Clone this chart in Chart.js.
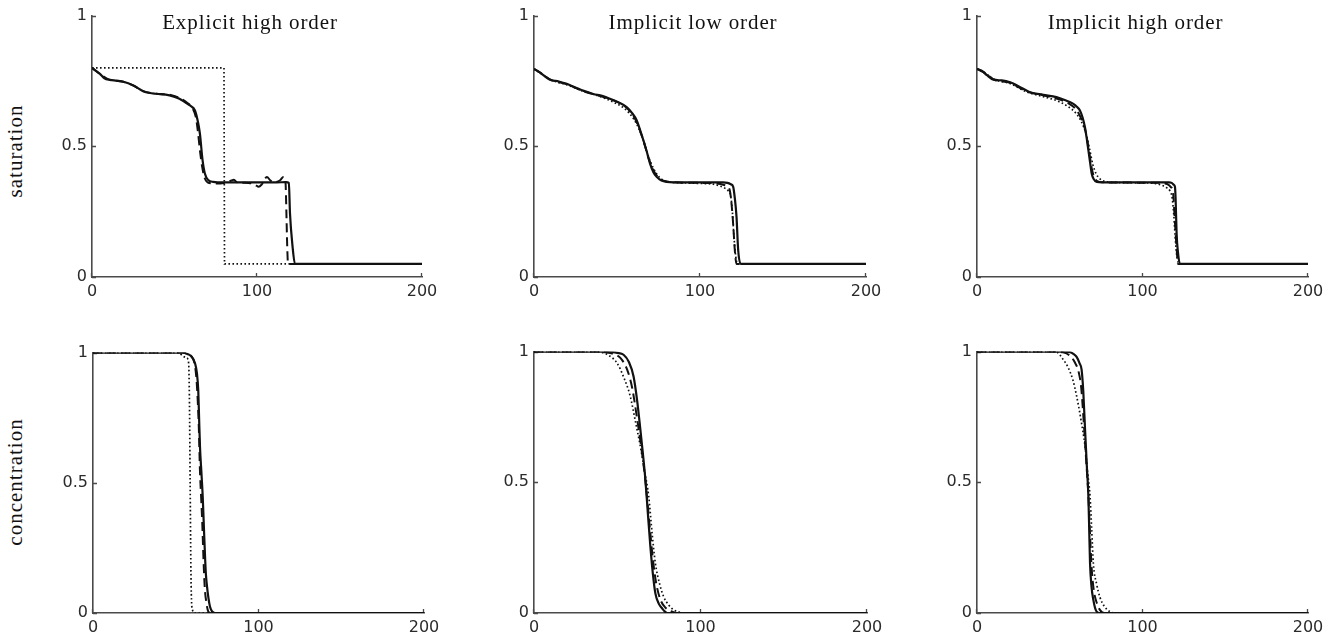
<!DOCTYPE html>
<html>
<head>
<meta charset="utf-8">
<title>Saturation and concentration profiles</title>
<script src="https://cdn.jsdelivr.net/npm/chart.js@4.4.1/dist/chart.umd.min.js"></script>
<style>
  html, body { margin: 0; padding: 0; background: #fff; }
  body { position: relative; width: 1337px; height: 636px; overflow: hidden; }
  canvas { position: absolute; }
  .rowlabel {
    position: absolute; width: 200px; height: 24px; line-height: 24px;
    text-align: center; font-family: "Liberation Serif", serif; font-size: 21px;
    letter-spacing: 1px; color: #111; transform: rotate(-90deg);
  }
</style>
</head>
<body>
<div class="rowlabel" style="left:-85px; top:139px;">saturation</div>
<div class="rowlabel" style="left:-85px; top:470px;">concentration</div>

<canvas id="p1"></canvas>
<canvas id="p2"></canvas>
<canvas id="p3"></canvas>
<canvas id="p4"></canvas>
<canvas id="p5"></canvas>
<canvas id="p6"></canvas>

<script>
// column titles
const titles = ['Explicit high order', 'Implicit low order', 'Implicit high order'];

// axis ticks
const xTicks = [0, 100, 200];
const yTicks = [0, 0.5, 1];

// saturation profiles, [x, value]
const satExplicitSolid = [[0,0.80],[4.8,0.777],[7.5,0.76],[10.9,0.754],[15,0.751],[19,0.747],[25,0.733],[31,0.711],[35,0.704],[39,0.701],[47,0.695],[53,0.682],[56.5,0.668],[59.4,0.656],[62.4,0.637],[64.4,0.587],[65.4,0.548],[67,0.447],[68.4,0.396],[70.4,0.371],[73.4,0.364],[80,0.362],[100,0.362],[112,0.362],[117.5,0.363],[119.3,0.36],[120,0.243],[121.5,0.12],[123,0.05],[200,0.05]];
const satExplicitDashed = [[0,0.80],[4.8,0.777],[10.9,0.754],[19,0.747],[25,0.733],[31,0.711],[39,0.701],[47,0.697],[53,0.685],[58,0.665],[61,0.645],[63,0.61],[64.3,0.55],[65.5,0.48],[66.8,0.42],[68.2,0.38],[70,0.362],[74,0.358],[80,0.36],[84,0.368],[86,0.372],[88,0.362],[95,0.36],[99,0.352],[101,0.345],[103,0.355],[106,0.383],[108,0.37],[110,0.362],[114,0.37],[116,0.383],[117.3,0.36],[117.8,0.25],[118.3,0.12],[118.8,0.05],[200,0.05]];
const satExplicitDotted = [[0,0.80],[80,0.80],[80.3,0.05],[200,0.05]];

const satLowSolid = [[0,0.796],[3,0.785],[6,0.77],[9.6,0.755],[15,0.748],[19.7,0.739],[25,0.725],[30,0.712],[35.7,0.70],[41,0.693],[45.8,0.682],[51,0.668],[55.8,0.65],[59,0.628],[61.9,0.599],[64,0.56],[65.9,0.523],[68,0.478],[69.9,0.434],[72,0.40],[73.9,0.383],[76.5,0.37],[79.9,0.364],[90,0.362],[105,0.362],[114,0.362],[116.5,0.36],[118.5,0.355],[120,0.345],[121,0.30],[122,0.23],[123,0.103],[124.5,0.05],[200,0.05]];
const satLowDashed = [[0,0.796],[5,0.777],[10,0.755],[20,0.737],[30,0.71],[40,0.692],[50,0.67],[55,0.652],[60,0.615],[63,0.575],[66,0.52],[69,0.455],[72,0.408],[75,0.38],[78,0.368],[85,0.362],[100,0.36],[110,0.358],[114,0.353],[116.5,0.345],[118,0.33],[119,0.28],[120,0.20],[121,0.10],[122,0.05],[200,0.05]];
const satLowDotted = [[0,0.796],[5,0.775],[10,0.755],[20,0.735],[30,0.71],[40,0.69],[50,0.662],[55,0.642],[60,0.605],[63,0.57],[66,0.52],[69,0.46],[72,0.415],[75,0.385],[78,0.37],[82,0.363],[90,0.36],[100,0.358],[108,0.355],[112,0.348],[115,0.34],[117,0.33],[118.5,0.31],[119.5,0.25],[120.5,0.15],[121.5,0.08],[122.5,0.05],[200,0.05]];

const satHighSolid = [[0,0.796],[3,0.788],[6,0.772],[9.9,0.755],[15,0.752],[20,0.745],[25,0.73],[32,0.707],[40,0.697],[48,0.688],[53,0.677],[58,0.663],[60.5,0.65],[62.2,0.637],[63.8,0.61],[65.2,0.574],[66.3,0.53],[67.3,0.485],[68.3,0.44],[69.3,0.396],[70.5,0.375],[72.3,0.364],[80,0.362],[100,0.362],[116,0.362],[117.6,0.36],[119,0.352],[119.6,0.345],[120,0.30],[120.6,0.167],[121.5,0.09],[122.6,0.05],[200,0.05]];
const satHighDashed = [[0,0.796],[5,0.78],[10,0.756],[20,0.743],[30,0.71],[40,0.695],[48,0.683],[55,0.665],[60,0.64],[63,0.605],[65.5,0.56],[67.5,0.49],[69.5,0.41],[71,0.38],[73,0.366],[78,0.362],[100,0.361],[112,0.36],[115,0.355],[117,0.345],[118.5,0.32],[119.5,0.22],[120.5,0.12],[121.5,0.05],[200,0.05]];
const satHighDotted = [[0,0.796],[5,0.78],[10,0.757],[20,0.74],[30,0.708],[40,0.69],[48,0.675],[55,0.652],[60,0.625],[63,0.595],[66,0.545],[68,0.49],[70,0.43],[72,0.395],[74,0.377],[77,0.366],[82,0.362],[100,0.36],[108,0.357],[112,0.35],[114.5,0.342],[116.5,0.33],[118,0.30],[119,0.23],[120,0.13],[121,0.07],[122,0.05],[200,0.05]];

// concentration profiles, [x, value]
const concExplicitSolid = [[0,1],[54,1],[57,0.995],[59.5,0.985],[61.6,0.96],[62.8,0.92],[63.6,0.854],[64.1,0.75],[64.65,0.637],[65.5,0.54],[66.3,0.446],[67,0.33],[67.7,0.216],[68.2,0.15],[68.7,0.114],[69.7,0.06],[70.7,0.024],[72,0.006],[73.7,0],[200,0]];
const concExplicitDashed = [[0,1],[54,1],[57,0.995],[59.5,0.985],[61.3,0.96],[62.5,0.90],[63.4,0.80],[64,0.70],[64.6,0.55],[65.3,0.45],[66,0.35],[66.8,0.20],[67.5,0.10],[68.5,0.04],[69.7,0.005],[71,0],[200,0]];
const concExplicitDotted = [[0,1],[52,1],[54,0.988],[56.5,0.98],[57.8,0.96],[58.3,0.80],[58.7,0.50],[59.1,0.20],[59.5,0.05],[60.2,0.01],[61.5,0],[200,0]];

const concLowSolid = [[0,1],[40,1],[45.8,0.998],[50,0.995],[53.8,0.988],[57,0.96],[59.8,0.905],[62,0.81],[63.9,0.701],[65.4,0.61],[66.9,0.51],[68.4,0.38],[69.9,0.254],[71.4,0.15],[72.9,0.075],[75,0.035],[76.9,0.018],[78.5,0.006],[80,0],[200,0]];
const concLowDashed = [[0,1],[38,1],[43,0.997],[48,0.99],[52,0.975],[56,0.93],[59,0.86],[62,0.74],[64.5,0.63],[67,0.50],[69.5,0.33],[71.5,0.20],[73.5,0.11],[76,0.05],[79,0.02],[83,0.005],[86,0],[200,0]];
const concLowDotted = [[0,1],[35,1],[39.8,0.998],[45,0.985],[49.8,0.957],[54,0.90],[57.8,0.829],[61,0.73],[63.9,0.637],[66.5,0.54],[68.9,0.446],[71,0.30],[72.9,0.19],[75.5,0.11],[77.9,0.062],[81,0.03],[83.9,0.012],[87,0.004],[90,0],[200,0]];

const concHighSolid = [[0,1],[50,1],[56.2,0.998],[58.5,0.99],[60.2,0.98],[62,0.955],[63.2,0.931],[64.2,0.85],[65.3,0.701],[66.3,0.57],[67.3,0.446],[67.8,0.32],[68.3,0.19],[69.2,0.10],[70.3,0.05],[71.3,0.02],[72.3,0.005],[74,0],[200,0]];
const concHighDashed = [[0,1],[46,1],[52,0.997],[56,0.985],[59,0.96],[61.5,0.92],[63,0.86],[64.5,0.73],[66,0.58],[67.3,0.45],[68.3,0.30],[69.3,0.17],[70.5,0.09],[72.3,0.04],[74.5,0.01],[77,0],[200,0]];
const concHighDotted = [[0,1],[42,1],[48,0.998],[52.2,0.969],[55,0.94],[58,0.89],[60.2,0.83],[62.8,0.74],[65.3,0.637],[66.8,0.54],[68.3,0.446],[69.3,0.32],[70.3,0.19],[72.3,0.11],[74.3,0.06],[77,0.025],[80.4,0.005],[83,0],[200,0]];

// plot areas on the page: left, top, right, bottom
const panels = [
  { id: 'p1', box: [92, 15, 422, 277],  title: titles[0], lines: [satExplicitSolid, satExplicitDashed, satExplicitDotted], stepDotted: true },
  { id: 'p2', box: [534, 15, 866, 277], title: titles[1], lines: [satLowSolid, satLowDashed, satLowDotted] },
  { id: 'p3', box: [977, 15, 1308, 277], title: titles[2], lines: [satHighSolid, satHighDashed, satHighDotted] },
  { id: 'p4', box: [93, 352, 424, 613], title: '', lines: [concExplicitSolid, concExplicitDashed, concExplicitDotted] },
  { id: 'p5', box: [534, 351, 867, 613], title: '', lines: [concLowSolid, concLowDashed, concLowDotted] },
  { id: 'p6', box: [977, 351, 1308, 613], title: '', lines: [concHighSolid, concHighDashed, concHighDotted] }
];

const AXIS = '#4a4a4a';
const TICK = '#2b2b2b';
const INK = '#111';
const Y_W = 50, X_H = 35, PAD_T = 14, PAD_R = 24;

const toPoints = arr => arr.map(p => ({ x: p[0], y: p[1] }));

// title sits just inside the top of the plot area
const panelTitle = {
  id: 'panelTitle',
  afterDraw(chart, args, opts) {
    if (!opts.text) return;
    const { ctx, chartArea } = chart;
    ctx.save();
    ctx.font = '21px "Liberation Serif", serif';
    ctx.letterSpacing = '0.9px';
    ctx.fillStyle = INK;
    ctx.textAlign = 'center';
    ctx.textBaseline = 'middle';
    ctx.fillText(opts.text, (chartArea.left + chartArea.right) / 2 - 7, chartArea.top + 8);
    ctx.restore();
  }
};

// short tick marks pointing into the plot
const innerTicks = {
  id: 'innerTicks',
  beforeDatasetsDraw(chart) {
    const { ctx, chartArea: a, scales: { x, y } } = chart;
    ctx.save();
    ctx.strokeStyle = AXIS;
    ctx.lineWidth = 1.3;
    ctx.beginPath();
    x.ticks.forEach(t => {
      const px = Math.round(x.getPixelForValue(t.value)) - 0.5;
      ctx.moveTo(px, a.bottom);
      ctx.lineTo(px, a.bottom - 4);
    });
    y.ticks.forEach(t => {
      const py = Math.round(y.getPixelForValue(t.value)) + 0.5;
      ctx.moveTo(a.left, py);
      ctx.lineTo(a.left + 4, py);
    });
    ctx.stroke();
    ctx.restore();
  }
};

function makePanel(p) {
  const [l, t, r, b] = p.box;
  const canvas = document.getElementById(p.id);
  canvas.width = (r - l) + Y_W + PAD_R;
  canvas.height = (b - t) + PAD_T + X_H;
  canvas.style.left = (l - Y_W) + 'px';
  canvas.style.top = (t - PAD_T) + 'px';

  const [solid, dashed, dotted] = p.lines;
  new Chart(canvas, {
    type: 'line',
    data: {
      datasets: [
        { data: toPoints(solid), borderColor: INK, borderWidth: 2.2, cubicInterpolationMode: 'monotone' },
        { data: toPoints(dashed), borderColor: INK, borderWidth: 2, borderDash: [9, 5], cubicInterpolationMode: 'monotone' },
        { data: toPoints(dotted), borderColor: INK, borderWidth: 1.7, borderDash: [1.6, 2.4],
          tension: 0, cubicInterpolationMode: p.stepDotted ? 'default' : 'monotone' }
      ]
    },
    options: {
      responsive: false,
      animation: false,
      layout: { padding: { left: 0, top: PAD_T, right: PAD_R, bottom: 0 } },
      elements: { point: { radius: 0 }, line: { fill: false } },
      plugins: {
        legend: { display: false },
        tooltip: { enabled: false },
        panelTitle: { text: p.title }
      },
      scales: {
        x: {
          type: 'linear', min: 0, max: 200,
          afterBuildTicks: s => { s.ticks = xTicks.map(v => ({ value: v })); },
          ticks: { color: TICK, font: { family: 'DejaVu Sans', size: 16 }, padding: 5, maxRotation: 0,
                   callback: v => String(v) },
          grid: { display: false, drawTicks: false },
          border: { color: AXIS, width: 1.6 },
          afterFit: s => { s.height = X_H; }
        },
        y: {
          type: 'linear', min: 0, max: 1,
          afterBuildTicks: s => { s.ticks = yTicks.map(v => ({ value: v })); },
          ticks: { color: TICK, font: { family: 'DejaVu Sans', size: 16 }, padding: 5,
                   callback: v => String(v) },
          grid: { display: false, drawTicks: false },
          border: { color: AXIS, width: 1.6 },
          afterFit: s => { s.width = Y_W; }
        }
      }
    },
    plugins: [panelTitle, innerTicks]
  });
}

panels.forEach(makePanel);
</script>
</body>
</html>
